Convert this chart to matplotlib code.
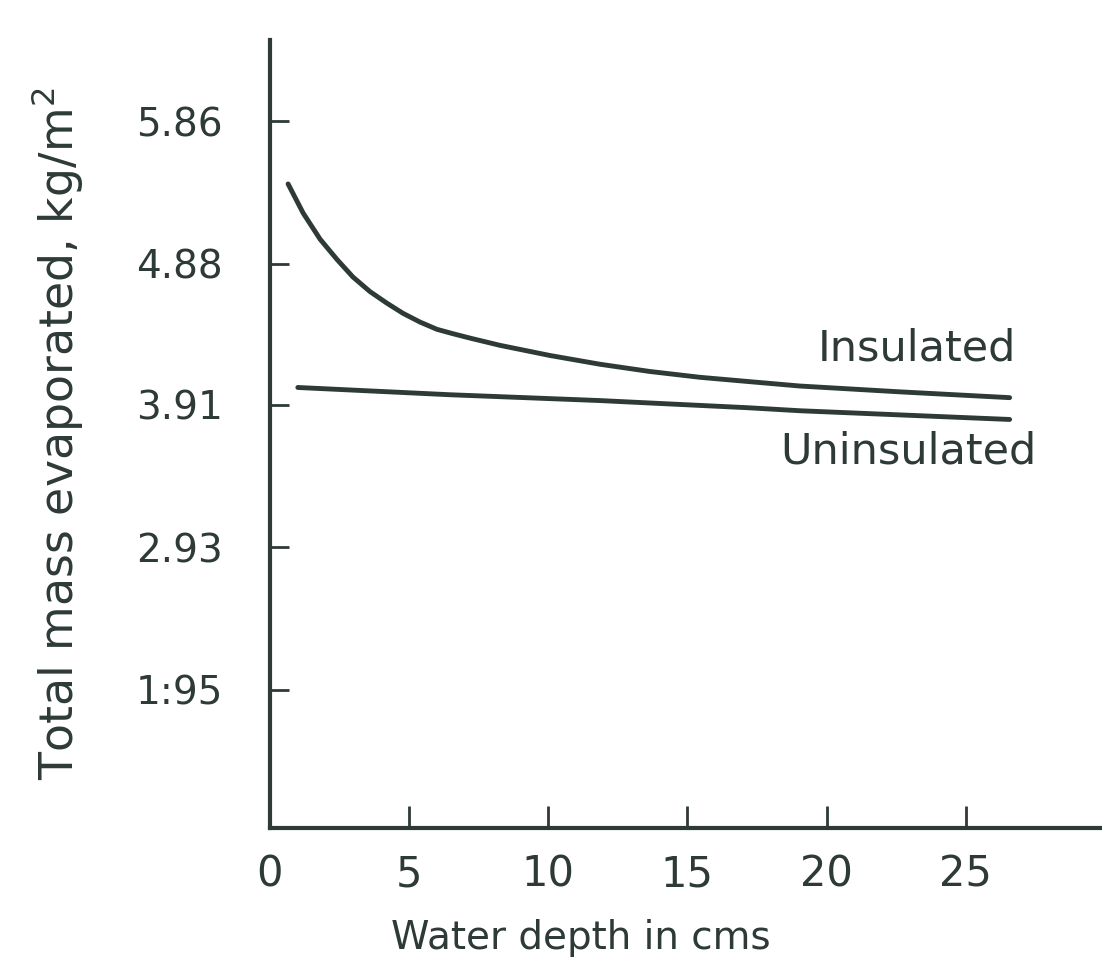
import matplotlib.pyplot as plt

# Data
depth_ins = [0.65, 1.19, 1.80, 2.41, 2.98, 3.59, 4.20, 4.78, 5.39, 6.00, 6.57, 7.18,
             8.26, 10.06, 11.85, 13.65, 15.45, 17.24, 19.04, 22.63, 26.58]
mass_ins = [5.43, 5.23, 5.05, 4.91, 4.79, 4.69, 4.61, 4.54, 4.48, 4.43, 4.40, 4.37,
            4.32, 4.25, 4.19, 4.14, 4.10, 4.07, 4.04, 4.00, 3.96]

depth_unins = [1.0, 6.47, 11.85, 17.24, 19.04, 26.58]
mass_unins = [4.03, 3.98, 3.94, 3.89, 3.87, 3.81]

xticks = [0, 5, 10, 15, 20, 25]
yticks = [1.95, 2.93, 3.91, 4.88, 5.86]
ytick_labels = ['1:95', '2.93', '3.91', '4.88', '5.86']

ink = '#2e3a38'
plt.rcParams['font.family'] = 'DejaVu Sans'

fig = plt.figure(figsize=(11.02, 9.68), dpi=100)
ax = fig.add_axes([0.245, 0.1446, 0.755, 0.8141])

ax.plot(depth_ins, mass_ins, color=ink, lw=3.5, solid_capstyle='round',
        solid_joinstyle='round')
ax.plot(depth_unins, mass_unins, color=ink, lw=3.5, solid_capstyle='round',
        solid_joinstyle='round')

ax.text(19.68, 4.30, 'Insulated', fontsize=31, color=ink, va='center', ha='left')
ax.text(18.32, 3.59, 'Uninsulated', fontsize=31, color=ink, va='center', ha='left')

ax.set_xlim(0, 29.9)
ax.set_ylim(1.0, 6.42)

ax.set_xticks(xticks)
ax.set_xticklabels([str(t) for t in xticks])
ax.set_yticks(yticks)
ax.set_yticklabels(ytick_labels)

ax.tick_params(axis='x', direction='in', length=16, width=2, colors=ink,
               labelsize=30, pad=18)
ax.tick_params(axis='y', direction='in', length=14, width=2, colors=ink,
               labelsize=28, pad=34)

for s in ['top', 'right']:
    ax.spines[s].set_visible(False)
for s in ['left', 'bottom']:
    ax.spines[s].set_linewidth(3)
    ax.spines[s].set_color(ink)

ax.set_xlabel('Water depth in cms', fontsize=28, color=ink)
ax.xaxis.set_label_coords(0.373, -0.115)
ax.set_ylabel('Total mass evaporated, kg/m$^2$', fontsize=33, color=ink)
ax.yaxis.set_label_coords(-0.222, 0.5)

fig.savefig('out.png', dpi=100, facecolor='white')
